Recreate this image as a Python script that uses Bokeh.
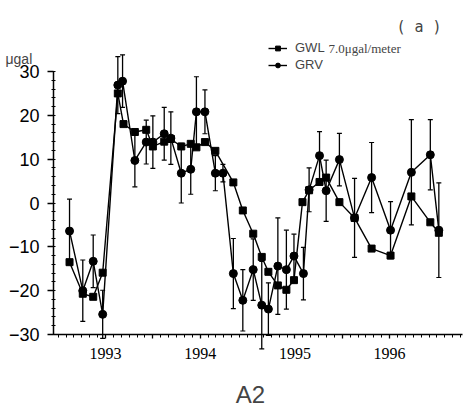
from bokeh.plotting import figure
from bokeh.models import (ColumnDataSource, FixedTicker, Whisker, TeeHead, Legend,
                          LegendItem, Label, Range1d)
from bokeh.embed import file_html
from bokeh.resources import INLINE
import numpy as np

# ---- data (decimal years) ----
gwl_t = [1992.62, 1992.76, 1992.87, 1992.97, 1993.13, 1993.19, 1993.31, 1993.43,
         1993.50, 1993.62, 1993.69, 1993.80, 1993.90, 1993.96, 1994.05, 1994.16,
         1994.35, 1994.45, 1994.56, 1994.65, 1994.72, 1994.82, 1994.91, 1994.99,
         1995.08, 1995.15, 1995.26, 1995.33, 1995.47, 1995.63, 1995.81, 1996.01,
         1996.23, 1996.43, 1996.52]
gwl_v = [-13.5, -20.7, -21.4, -15.9, 25.0, 18.0, 16.2, 16.7,
         12.9, 14.0, 14.6, 12.9, 13.5, 12.7, 13.9, 11.9,
         4.7, -1.7, -7.0, -12.3, -15.7, -18.8, -19.8, -17.6,
         0.2, 2.9, 4.8, 5.8, 0.2, -3.4, -10.4, -12.0,
         1.5, -4.4, -6.8]

grv_t = [1992.62, 1992.76, 1992.87, 1992.97, 1993.13, 1993.18, 1993.31, 1993.43,
         1993.50, 1993.62, 1993.69, 1993.80, 1993.90, 1993.96, 1994.05, 1994.16,
         1994.24, 1994.35, 1994.45, 1994.56, 1994.65, 1994.72, 1994.82, 1994.91,
         1994.99, 1995.09, 1995.15, 1995.26, 1995.33, 1995.47, 1995.63, 1995.81,
         1996.01, 1996.23, 1996.43, 1996.52]
grv_v = [-6.4, -20.0, -13.3, -25.4, 26.9, 27.8, 9.7, 13.9,
         13.9, 15.8, 14.8, 6.8, 7.7, 20.8, 20.8, 6.8,
         6.8, -16.1, -22.2, -15.2, -23.3, -24.2, -14.4, -15.2,
         -12.1, -16.1, 3.0, 10.8, 2.8, 9.9, -3.4, 5.8,
         -6.2, 7.0, 11.0, -6.2]
grv_err = [7.3, 7.0, 6.0, 5.5, 6.5, 6.0, 6.0, 5.0,
           6.0, 6.0, 6.0, 6.8, 5.7, 8.0, 5.0, 4.0,
           2.0, 8.0, 7.0, 7.0, 10.0, 6.0, 11.0, 9.0,
           5.0, 6.0, 5.0, 5.5, 7.0, 6.0, 9.0, 8.0,
           6.5, 12.0, 8.0, 10.8]

year_ticks = [1993, 1994, 1995, 1996]
y_ticks = [-30, -20, -10, 0, 10, 20, 30]
x_axis_span = (1992.45, 1996.77)
y_axis_span = (-30, 30)

FONT = "Liberation Sans"

# frame covers the whole canvas; axes are drawn at fixed locations with bounds
p = figure(width=464, height=409, output_backend="svg", toolbar_location=None,
           x_range=Range1d(1991.891, 1996.791), y_range=Range1d(-47.11, 46.20),
           min_border_left=0, min_border_right=0, min_border_top=0,
           min_border_bottom=0)
p.outline_line_color = None
p.grid.visible = False
p.background_fill_color = "white"
p.border_fill_color = "white"

gsrc = ColumnDataSource(dict(t=gwl_t, v=gwl_v))
rsrc = ColumnDataSource(dict(t=grv_t, v=grv_v,
                             lo=[a - b for a, b in zip(grv_v, grv_err)],
                             hi=[a + b for a, b in zip(grv_v, grv_err)]))

w = Whisker(base="t", lower="lo", upper="hi", source=rsrc, line_color="black",
            line_width=1.3,
            upper_head=TeeHead(size=5, line_color="black", line_width=1.2),
            lower_head=TeeHead(size=5, line_color="black", line_width=1.2))
p.add_layout(w)

gl = p.line("t", "v", source=gsrc, line_color="black", line_width=1.4)
gm = p.scatter("t", "v", source=gsrc, marker="square", size=7, color="black")
rl = p.line("t", "v", source=rsrc, line_color="black", line_width=1.4)
rm = p.scatter("t", "v", source=rsrc, marker="circle", size=8, color="black")

legend = Legend(items=[LegendItem(label="GWL", renderers=[gl, gm]),
                       LegendItem(label="GRV", renderers=[rl, rm])],
                location=(268, 337), orientation="vertical",
                border_line_color=None, background_fill_alpha=0,
                label_text_font=FONT, label_text_font_size="13px",
                glyph_width=19, glyph_height=12, label_standoff=8,
                spacing=2, padding=0, margin=0, label_height=14)
p.add_layout(legend)

# axes
xt = [1993, 1993.5, 1994, 1995, 1995.5, 1996]
p.xaxis.fixed_location = y_axis_span[0]
p.xaxis.bounds = x_axis_span
p.xaxis.ticker = FixedTicker(ticks=xt,
                             minor_ticks=list(np.arange(1992.5, 1996.8, 1 / 12)))
p.xaxis.major_label_overrides = {1993.5: "", 1995.5: ""}
p.xaxis.major_tick_in = 0
p.xaxis.major_tick_out = 4
p.xaxis.minor_tick_in = 0
p.xaxis.minor_tick_out = 3
p.xaxis.major_label_text_font = "Liberation Serif"
p.xaxis.major_label_text_font_size = "16px"
p.xaxis.major_label_standoff = 9

p.yaxis.fixed_location = x_axis_span[0]
p.yaxis.bounds = y_axis_span
p.yaxis.ticker = FixedTicker(ticks=y_ticks,
                             minor_ticks=list(np.arange(-30, 30.1, 2)))
p.yaxis.major_tick_in = 0
p.yaxis.major_tick_out = 6
p.yaxis.minor_tick_in = 2
p.yaxis.minor_tick_out = 2
p.yaxis.major_label_text_font = FONT
p.yaxis.major_label_text_font_size = "18px"
p.yaxis.major_label_standoff = 8

for ax in (p.xaxis, p.yaxis):
    ax.axis_line_color = "black"
    ax.axis_line_width = 1.5
    ax.major_tick_line_color = "black"
    ax.major_tick_line_width = 1.3
    ax.minor_tick_line_color = "black"
    ax.major_label_text_color = "black"

# texts (screen units, frame = whole canvas)
p.add_layout(Label(x=5, y=351, x_units="screen", y_units="screen", text="μgal",
                   text_font=FONT, text_font_size="14px", text_baseline="middle"))
p.add_layout(Label(x=396, y=383, x_units="screen", y_units="screen", text="( a )",
                   text_font="DejaVu Sans Mono", text_font_size="15px",
                   text_baseline="middle"))
p.add_layout(Label(x=328, y=361, x_units="screen", y_units="screen",
                   text="7.0μgal/meter", text_font="Liberation Serif",
                   text_font_size="13px", text_baseline="middle"))
p.add_layout(Label(x=250, y=15, x_units="screen", y_units="screen", text="A2",
                   text_font=FONT, text_font_size="24px", text_baseline="middle",
                   text_align="center"))

open("out.html", "w").write(file_html(p, INLINE))
